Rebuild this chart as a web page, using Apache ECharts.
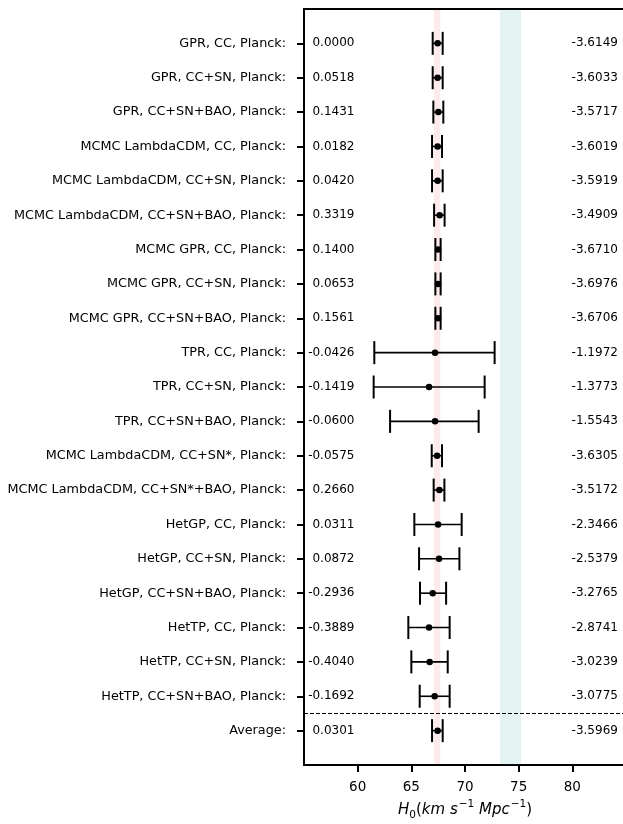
<!DOCTYPE html>
<html>
<head>
<meta charset="utf-8">
<style>
html,body{margin:0;padding:0;background:#fff;}
#chart{width:623px;height:824px;}
</style>
<script src="https://cdn.jsdelivr.net/npm/echarts@6/dist/echarts.min.js"></script>
</head>
<body>
<div id="chart"></div>
<script>
var rowLabels = [
  "GPR, CC, Planck:", "GPR, CC+SN, Planck:", "GPR, CC+SN+BAO, Planck:",
  "MCMC LambdaCDM, CC, Planck:", "MCMC LambdaCDM, CC+SN, Planck:", "MCMC LambdaCDM, CC+SN+BAO, Planck:",
  "MCMC GPR, CC, Planck:", "MCMC GPR, CC+SN, Planck:", "MCMC GPR, CC+SN+BAO, Planck:",
  "TPR, CC, Planck:", "TPR, CC+SN, Planck:", "TPR, CC+SN+BAO, Planck:",
  "MCMC LambdaCDM, CC+SN*, Planck:", "MCMC LambdaCDM, CC+SN*+BAO, Planck:",
  "HetGP, CC, Planck:", "HetGP, CC+SN, Planck:", "HetGP, CC+SN+BAO, Planck:",
  "HetTP, CC, Planck:", "HetTP, CC+SN, Planck:", "HetTP, CC+SN+BAO, Planck:",
  "Average:"
];
var h0Center = [67.45, 67.45, 67.52, 67.45, 67.45, 67.64, 67.49, 67.49, 67.49, 67.21, 66.65, 67.21, 67.40, 67.61, 67.49, 67.58, 66.99, 66.65, 66.71, 67.17, 67.45];
var h0Low    = [66.99, 66.99, 67.05, 66.93, 66.93, 67.12, 67.24, 67.24, 67.24, 61.55, 61.49, 63.02, 66.90, 67.08, 65.28, 65.72, 65.81, 64.72, 65.00, 65.78, 66.93];
var h0High   = [67.92, 67.92, 67.98, 67.86, 67.92, 68.10, 67.73, 67.73, 67.73, 72.76, 71.83, 71.27, 67.86, 68.08, 69.69, 69.48, 68.24, 68.57, 68.39, 68.57, 67.92];
var leftValues = ["0.0000", "0.0518", "0.1431", "0.0182", "0.0420", "0.3319", "0.1400", "0.0653", "0.1561", "-0.0426", "-0.1419", "-0.0600", "-0.0575", "0.2660", "0.0311", "0.0872", "-0.2936", "-0.3889", "-0.4040", "-0.1692", "0.0301"];
var rightValues = ["-3.6149", "-3.6033", "-3.5717", "-3.6019", "-3.5919", "-3.4909", "-3.6710", "-3.6976", "-3.6706", "-1.1972", "-1.3773", "-1.5543", "-3.6305", "-3.5172", "-2.3466", "-2.5379", "-3.2765", "-2.8741", "-3.0239", "-3.0775", "-3.5969"];
var xTicks = [60, 65, 70, 75, 80];
var planckBand = [67.1, 67.7];
var shoesBand = [73.27, 75.22];
var separatorRow = 19.5;

var FONT = "DejaVu Sans";
var chart = echarts.init(document.getElementById('chart'), null, {renderer: 'canvas'});

var errData = h0Center.map(function (c, i) { return [h0Low[i], i, h0High[i]]; });
var dotData = h0Center.map(function (c, i) { return [c, i]; });

function textSeries(strings, xVal, align) {
  return {
    type: 'custom',
    z: 4,
    silent: true,
    data: strings.map(function (s, i) { return [xVal, i]; }),
    encode: {x: 0, y: 1},
    renderItem: function (params, api) {
      var p = api.coord([api.value(0), api.value(1)]);
      return {
        type: 'text',
        x: p[0], y: p[1],
        style: {
          text: strings[params.dataIndex],
          fill: '#000',
          font: '12px "' + FONT + '"',
          align: align,
          verticalAlign: 'middle'
        }
      };
    }
  };
}

var option = {
  animation: false,
  backgroundColor: '#fff',
  grid: {left: 304, top: 9, width: 322, height: 756, show: true, borderColor: '#000', borderWidth: 2, backgroundColor: 'transparent', outerBoundsMode: 'none', containLabel: false},
  xAxis: {
    type: 'value', min: 55, max: 85, interval: 5,
    name: '{i|H}{sub|0}{n|(}{i|km s}{sup|−1}{i| Mpc}{sup|−1}{n|)}',
    nameLocation: 'middle', nameGap: 34,
    nameTextStyle: {
      rich: {
        i: {fontFamily: FONT, fontStyle: 'italic', fontSize: 15, color: '#000', lineHeight: 22, verticalAlign: 'middle'},
        n: {fontFamily: FONT, fontSize: 15, color: '#000', lineHeight: 22, verticalAlign: 'middle'},
        sup: {fontFamily: FONT, fontSize: 10.5, color: '#000', lineHeight: 22, verticalAlign: 'top', padding: [0, 0, 0, 1]},
        sub: {fontFamily: FONT, fontSize: 10.5, color: '#000', lineHeight: 22, verticalAlign: 'bottom'}
      }
    },
    splitLine: {show: false},
    axisLine: {show: true, onZero: false, lineStyle: {color: '#000', width: 2}},
    axisTick: {show: true, length: 7, lineStyle: {color: '#000', width: 2}, customValues: xTicks},
    axisLabel: {color: '#000', fontFamily: FONT, fontSize: 13.5, margin: 15, customValues: xTicks}
  },
  yAxis: {
    type: 'value', min: -1, max: 21, interval: 1, inverse: true,
    splitLine: {show: false},
    axisLine: {show: true, onZero: false, lineStyle: {color: '#000', width: 2}},
    axisTick: {show: true, length: 7, lineStyle: {color: '#000', width: 2}},
    axisLabel: {
      color: '#000', fontFamily: FONT, fontSize: 12.8, margin: 18,
      showMinLabel: false, showMaxLabel: false,
      formatter: function (v) { return (v >= 0 && v < rowLabels.length) ? rowLabels[v] : ''; }
    }
  },
  series: [
    {
      type: 'scatter', z: 1, silent: true, symbolSize: 0, data: [],
      markArea: {
        silent: true,
        data: [
          [{xAxis: planckBand[0], itemStyle: {color: 'rgba(220,20,60,0.09)'}}, {xAxis: planckBand[1]}],
          [{xAxis: shoesBand[0], itemStyle: {color: 'rgba(0,128,128,0.1)'}}, {xAxis: shoesBand[1]}]
        ]
      },
      markLine: {
        silent: true, symbol: ['none', 'none'],
        label: {show: false},
        lineStyle: {color: '#000', width: 1, type: [4, 2]},
        data: [{yAxis: separatorRow}]
      }
    },
    {
      type: 'custom', z: 3, silent: true,
      data: errData,
      encode: {x: [0, 2], y: 1},
      renderItem: function (params, api) {
        var row = api.value(1);
        var lo = api.coord([api.value(0), row]);
        var hi = api.coord([api.value(2), row]);
        var h = 11.5;
        return {
          type: 'group',
          children: [
            {type: 'line', shape: {x1: lo[0], y1: lo[1], x2: hi[0], y2: hi[1]}, style: {stroke: '#000', lineWidth: 1.6}},
            {type: 'line', shape: {x1: lo[0], y1: lo[1] - h, x2: lo[0], y2: lo[1] + h}, style: {stroke: '#000', lineWidth: 2}},
            {type: 'line', shape: {x1: hi[0], y1: hi[1] - h, x2: hi[0], y2: hi[1] + h}, style: {stroke: '#000', lineWidth: 2}}
          ]
        };
      }
    },
    {
      type: 'scatter', z: 4, silent: true,
      symbol: 'circle', symbolSize: 6.5,
      itemStyle: {color: '#000', opacity: 1},
      data: dotData
    },
    textSeries(leftValues, 59.7, 'right'),
    textSeries(rightValues, 79.93, 'left')
  ]
};
chart.setOption(option);
</script>
</body>
</html>
